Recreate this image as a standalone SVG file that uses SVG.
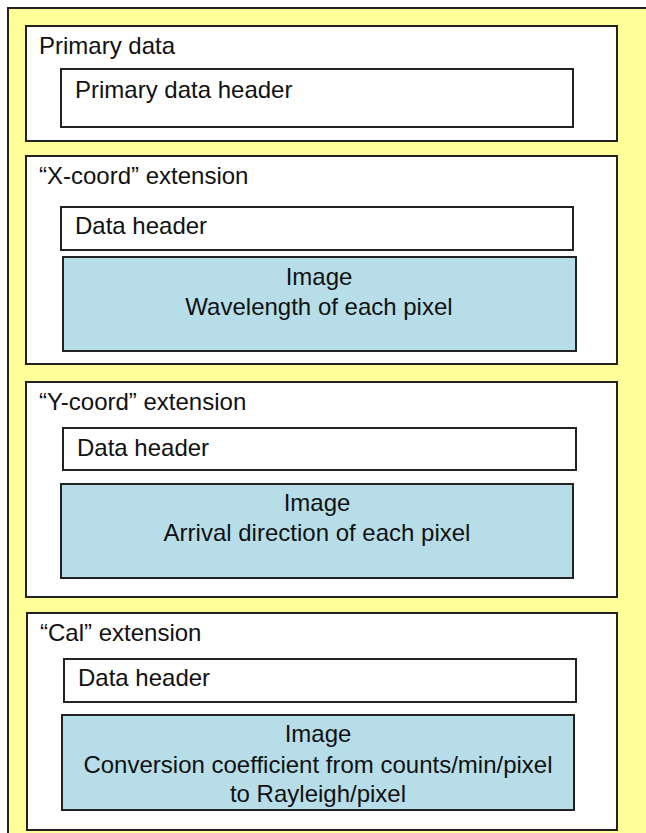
<svg xmlns="http://www.w3.org/2000/svg" width="646" height="833" viewBox="0 0 646 833">
  <style>
    .frame { fill: #FFFF99; stroke: #222; stroke-width: 2; }
    .box { fill: #FFFFFF; stroke: #222; stroke-width: 2; }
    .img { fill: #B7DEE8; stroke: #222; stroke-width: 2; }
    text { font-family: "Liberation Sans", Arial, sans-serif; font-size: 24px; fill: #111; }
    .mid { text-anchor: middle; }
  </style>

  <!-- outer container -->
  <rect class="frame" x="8" y="8" width="660" height="850"/>

  <g id="primary">
    <rect class="box" x="26" y="26" width="591" height="115"/>
    <text x="39" y="54">Primary data</text>
    <g id="primary-header">
      <rect class="box" x="61" y="69" width="512" height="58"/>
      <text x="75" y="98">Primary data header</text>
    </g>
  </g>

  <g id="xcoord">
    <rect class="box" x="26" y="156" width="591" height="208"/>
    <text x="39" y="184">“X-coord” extension</text>
    <g id="xcoord-header">
      <rect class="box" x="61" y="207" width="512" height="43"/>
      <text x="75" y="234">Data header</text>
    </g>
    <g id="xcoord-image">
      <rect class="img" x="63" y="257" width="513" height="94"/>
      <text class="mid" x="319" y="285">Image</text>
      <text class="mid" x="319" y="315">Wavelength of each pixel</text>
    </g>
  </g>

  <g id="ycoord">
    <rect class="box" x="26" y="382" width="591" height="215"/>
    <text x="39" y="410">“Y-coord” extension</text>
    <g id="ycoord-header">
      <rect class="box" x="63" y="428" width="513" height="42"/>
      <text x="77" y="456">Data header</text>
    </g>
    <g id="ycoord-image">
      <rect class="img" x="61" y="484" width="512" height="94"/>
      <text class="mid" x="317" y="511">Image</text>
      <text class="mid" x="317" y="541">Arrival direction of each pixel</text>
    </g>
  </g>

  <g id="cal">
    <rect class="box" x="27" y="613" width="590" height="217"/>
    <text x="40" y="641">“Cal” extension</text>
    <g id="cal-header">
      <rect class="box" x="64" y="659" width="512" height="43"/>
      <text x="78" y="686">Data header</text>
    </g>
    <g id="cal-image">
      <rect class="img" x="62" y="715" width="512" height="95"/>
      <text class="mid" x="318" y="742">Image</text>
      <text class="mid" x="318" y="773">Conversion coefficient from counts/min/pixel</text>
      <text class="mid" x="318" y="802">to Rayleigh/pixel</text>
    </g>
  </g>
</svg>
